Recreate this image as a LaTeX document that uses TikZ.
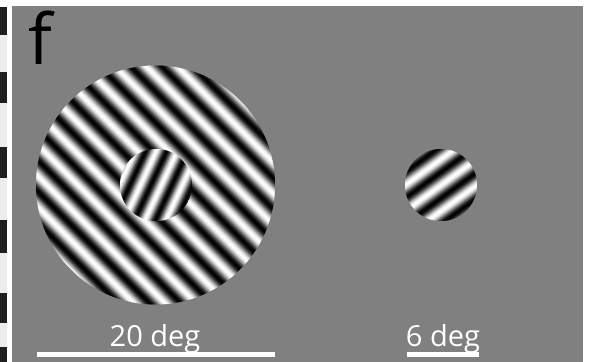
\documentclass[tikz,border=0pt]{standalone}
\usepackage{fontspec}
\setmainfont{Open Sans}
\usepackage{tikz}
\definecolor{bggray}{gray}{0.5}
\definecolor{stripwhite}{gray}{0.93}
\definecolor{stripblack}{gray}{0.12}

\begin{document}
\begin{tikzpicture}[x=1pt, y=1pt, font=\fontsize{29}{34}\selectfont,
		scalebar/.style={draw=white, line width=4.5pt},
		sizelabel/.style={text=white, inner sep=0pt, anchor=base}]
		\useasboundingbox (0,0) rectangle (590,362);
		% edge of the neighbouring panel
		\fill[stripwhite] (0,0) rectangle (7,355);
		\foreach \ya/\yb in {7/35, 72/103, 147/178, 220/253, 293/323, 347/362}
			\fill[stripblack] (0,362-\yb) rectangle (7,362-\ya);
		% background
		\fill[bggray] (12,0) rectangle (583,356);
		% gratings: centre, radius, half width, orientation, period, phase
		\foreach \cx/\cy/\r/\n/\ang/\per/\ph in {155.5/177/119.5/121/45/22/0, 156/177/36/38/-25/19/90, 441/177/36/38/-54/21/180} {
			\begin{scope}
				\clip (\cx,\cy) circle (\r);
				\begin{scope}[shift={(\cx,\cy)}, rotate=\ang]
					\foreach \s in {-\n,...,\n} {
						\pgfmathtruncatemacro\p{50+50*cos(\s/\per*360+\ph)}
						\fill[black!\p!white] (\s-0.2,-\n) rectangle (\s+1.2,\n);
					}
				\end{scope}
			\end{scope}
		}
		% panel letter
		\node[font=\fontsize{70}{80}\selectfont, anchor=base west, inner sep=0pt] (panelf) at (28,297) {f};
		% scale bars
		\coordinate (bigbarL) at (37,7.5);
		\coordinate (bigbarR) at (275,7.5);
		\coordinate (smallbarL) at (407,7.5);
		\coordinate (smallbarR) at (479,7.5);
		\draw[scalebar] (bigbarL) -- (bigbarR);
		\draw[scalebar] (smallbarL) -- (smallbarR);
		\node[sizelabel] (bigdeg) at (155,15) {20 deg};
		\node[sizelabel] (smalldeg) at (443,15) {6 deg};
	\end{tikzpicture}
\end{document}
